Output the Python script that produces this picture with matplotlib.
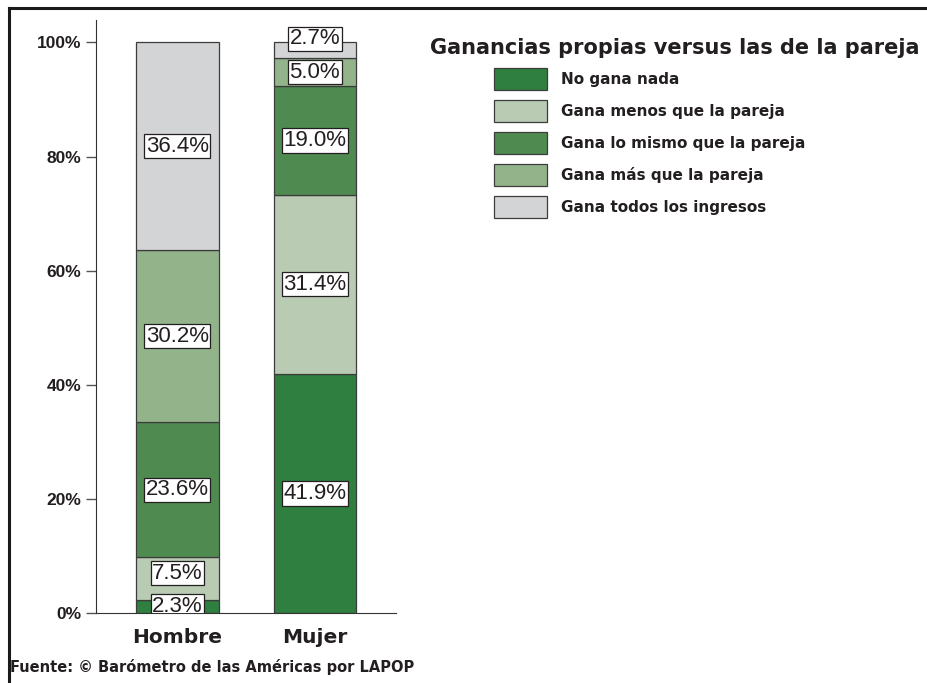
import numpy as np
import matplotlib.pyplot as plt
from matplotlib.patches import Patch
from matplotlib.lines import Line2D

plt.rcParams['font.family'] = ['Liberation Sans', 'DejaVu Sans']

groups = ['Hombre', 'Mujer']
categories = ['No gana nada', 'Gana menos que la pareja', 'Gana lo mismo que la pareja',
              'Gana más que la pareja', 'Gana todos los ingresos']
hombre = [2.3, 7.5, 23.6, 30.2, 36.4]
mujer = [41.9, 31.4, 19.0, 5.0, 2.7]
colors = ['#2f7f40', '#b9cbb3', '#4f8b51', '#93b48b', '#d3d4d6']

ink = '#231f20'
wide = 'DejaVu Sans'

fig = plt.figure(figsize=(9.27, 6.83), dpi=100)
ax = fig.add_axes([0.104, 0.1025, 0.323, 0.868])

values = np.array([hombre, mujer])
x = np.arange(len(groups))
bottoms = np.zeros(len(groups))
label_y = np.zeros_like(values)
for i, cat in enumerate(categories):
    vals = values[:, i]
    ax.bar(x, vals, width=0.6, bottom=bottoms, color=colors[i],
           edgecolor='#3c3c3c', linewidth=0.9, label=cat)
    label_y[:, i] = bottoms + vals / 2
    bottoms += vals

# push labels apart so small segments don't overlap
min_gap = 5.8
for g in range(len(groups)):
    for i in range(1, len(categories)):
        label_y[g, i] = max(label_y[g, i], label_y[g, i - 1] + min_gap)

for g in range(len(groups)):
    for i in range(len(categories)):
        ax.text(x[g], label_y[g, i], f'{values[g, i]:.1f}%', ha='center', va='center',
                fontsize=16, color=ink, clip_on=True,
                bbox=dict(boxstyle='square,pad=0.07', facecolor='white',
                          edgecolor=ink, linewidth=0.9))

ax.set_xlim(-0.59, 1.59)
ax.set_ylim(0, 103.9)
ax.set_yticks([0, 20, 40, 60, 80, 100])
ax.set_yticklabels([f'{t}%' for t in range(0, 101, 20)], fontsize=12.5,
                   fontweight='bold', color=ink)
ax.set_xticks(x)
ax.set_xticklabels(groups, fontsize=14.5, fontweight='bold', color=ink, family=wide)
ax.tick_params(axis='y', length=7, width=1, color='#555555', pad=4)
ax.tick_params(axis='x', length=0, pad=11)
for side in ['top', 'right']:
    ax.spines[side].set_visible(False)
ax.spines['left'].set_color('#333333')
ax.spines['bottom'].set_color('#333333')

# legend: title placed separately, entries below it
fig.text(674.5 / 927, 1 - 48 / 683, 'Ganancias propias versus las de la pareja',
         ha='center', va='center', fontsize=15, fontweight='bold', color=ink, family=wide)
handles = [Patch(facecolor=c, edgecolor='#3c3c3c', linewidth=0.9) for c in colors]
fig.legend(handles, categories, loc='upper left',
           bbox_to_anchor=(494 / 927, 1 - 68 / 683), frameon=False,
           prop={'family': wide, 'weight': 'bold', 'size': 11},
           handlelength=3.47, handleheight=1.84, labelspacing=0.65,
           handletextpad=0.92, borderpad=0, borderaxespad=0, labelcolor=ink)

fig.text(10 / 927, 1 - 667 / 683, 'Fuente: © Barómetro de las Américas por LAPOP',
         ha='left', va='center', fontsize=10.5, fontweight='bold', color=ink, family=wide)

# outer frame (left and top edges)
fig.add_artist(Line2D([9 / 927, 9 / 927], [0, 1 - 8 / 683], color='#1a1a1a', linewidth=2.2))
fig.add_artist(Line2D([9 / 927, 1], [1 - 8 / 683, 1 - 8 / 683], color='#1a1a1a', linewidth=2.2))

fig.savefig('out.png', dpi=100, facecolor='white')
